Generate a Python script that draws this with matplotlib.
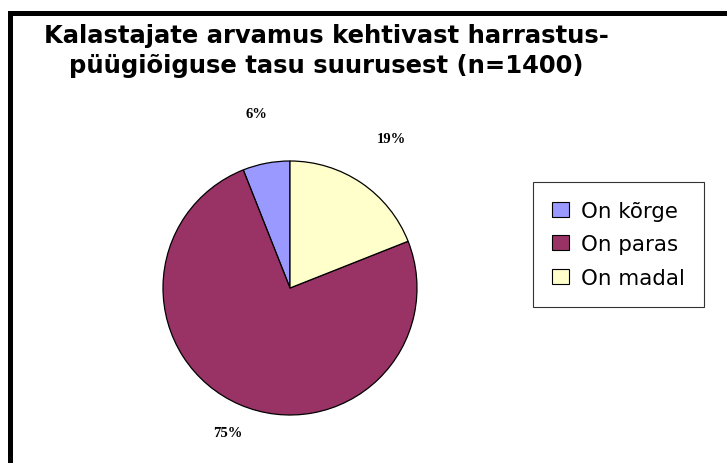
import matplotlib
matplotlib.use("Agg")
import matplotlib.pyplot as plt
import numpy as np
from matplotlib.lines import Line2D

categories = ["On kõrge", "On paras", "On madal"]
values = [6, 75, 19]
colors = ["#9999FF", "#993366", "#FFFFCC"]
title_lines = ["Kalastajate arvamus kehtivast harrastus-",
               "püügiõiguse tasu suurusest (n=1400)"]
label_dist = [1.40, 1.24, 1.42]

W, H = 727, 464
fig = plt.figure(figsize=(W / 100, H / 100), dpi=100)

# frame (left and top edges visible)
fig.add_artist(Line2D([10 / W, 10 / W], [0, 1 - 14 / H], color="black", lw=3.6,
                      solid_capstyle="projecting", transform=fig.transFigure))
fig.add_artist(Line2D([10 / W, 1.0], [1 - 14 / H, 1 - 14 / H], color="black", lw=3.6,
                      solid_capstyle="projecting", transform=fig.transFigure))

for line, base in zip(title_lines, [43, 73]):
    fig.text(326 / W, 1 - base / H, line, ha="center", va="baseline",
             fontsize=17.5, fontweight="bold", family=["DejaVu Sans"])

cx, cy, r = 290, 289, 127
ax = fig.add_axes([(cx - r) / W, (H - cy - r) / H, 2 * r / W, 2 * r / H])
wedges, _ = ax.pie(values, colors=colors, startangle=90, counterclock=True,
                   wedgeprops=dict(edgecolor="black", linewidth=0.9))
ax.set_xlim(-1, 1)
ax.set_ylim(-1, 1)
ax.set_aspect("auto")
ax.axis("off")

total = sum(values)
for w, v, d in zip(wedges, values, label_dist):
    ang = np.deg2rad((w.theta1 + w.theta2) / 2)
    ax.text(d * np.cos(ang), d * np.sin(ang), f"{round(100 * v / total)}%",
            ha="center", va="center", fontsize=10.5, fontweight="bold",
            family=["Liberation Serif", "DejaVu Serif"], clip_on=False)

leg = fig.legend(wedges, categories, loc="upper left",
                 bbox_to_anchor=(533 / W, 1 - 183 / H, 171 / W, 0), mode="expand",
                 borderaxespad=0,
                 prop=dict(family=["DejaVu Sans"], size=15.4),
                 frameon=True, fancybox=False, shadow=False,
                 handlelength=0.8, handleheight=0.7, handletextpad=0.56,
                 labelspacing=0.63, borderpad=0.88)
leg.get_frame().set_edgecolor("black")
leg.get_frame().set_linewidth(0.8)
for h in leg.legend_handles:
    h.set_edgecolor("black")
    h.set_linewidth(0.8)

fig.savefig("out.png", dpi=100)
